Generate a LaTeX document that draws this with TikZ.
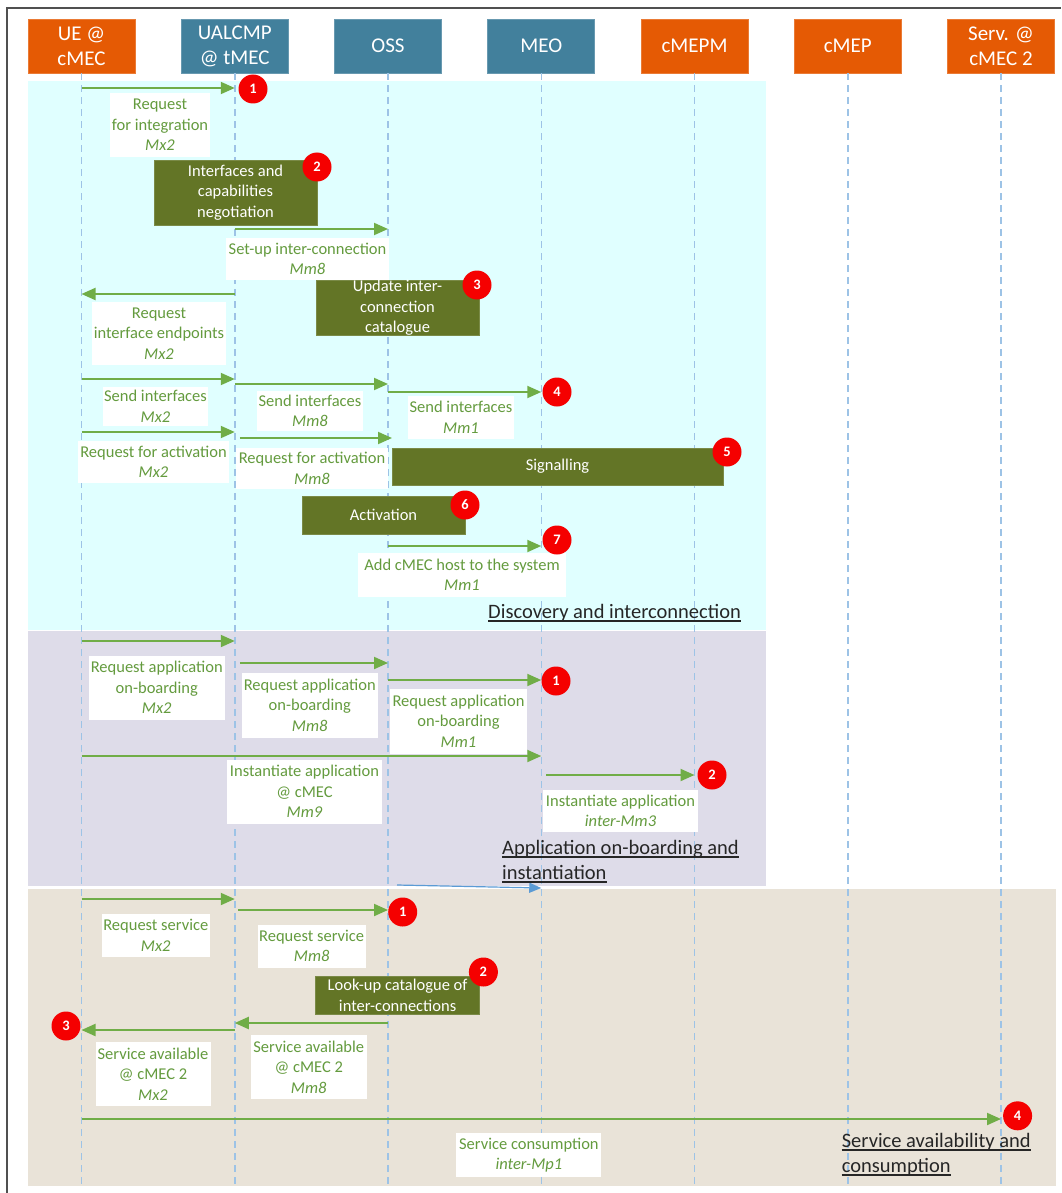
\documentclass[tikz,border=0pt]{standalone}
\usepackage{fontspec}
\setmainfont{Carlito}
\usetikzlibrary{arrows.meta,calc}
\definecolor{hdrorange}{RGB}{229,90,4}
\definecolor{hdrblue}{RGB}{66,128,156}
\definecolor{bgcyan}{RGB}{224,255,255}
\definecolor{bglav}{RGB}{222,220,233}
\definecolor{bgbeige}{RGB}{233,227,216}
\definecolor{msggreen}{RGB}{112,173,71}
\definecolor{txtgreen}{RGB}{100,155,62}
\definecolor{actgreen}{RGB}{99,117,38}
\definecolor{lifeblue}{RGB}{157,195,230}
\definecolor{arrblue}{RGB}{91,155,213}
\definecolor{titlegray}{RGB}{38,38,38}
\definecolor{framegray}{RGB}{80,80,80}
\definecolor{badgered}{RGB}{245,0,0}
\begin{document}
\begin{tikzpicture}[x=1pt,y=-1pt,
  hdr/.style={minimum width=107pt,minimum height=54pt,inner sep=0pt,text=white,align=center,font=\fontsize{21}{25}\selectfont},
  orangehdr/.style={hdr,fill=hdrorange,draw=hdrorange!80!white,line width=0.8pt},
  bluehdr/.style={hdr,fill=hdrblue,draw=hdrblue!80!white,line width=0.8pt},
  lifeline/.style={draw=lifeblue,line width=1.5pt,dash pattern=on 7pt off 5pt},
  msg/.style={draw=msggreen,line width=2pt,-{Triangle[length=14pt,width=12pt]}},
  bluemsg/.style={draw=arrblue,line width=1.2pt,-{Triangle[length=12pt,width=10pt]}},
  lbl/.style={fill=white,inner sep=0pt,text=txtgreen,align=center,font=\fontsize{16.5}{20.5}\selectfont},
  act/.style={fill=actgreen,draw=actgreen!85!white,line width=0.8pt,inner sep=0pt,text=white,align=center,font=\fontsize{16.5}{20.5}\selectfont},
  badge/.style={circle,fill=badgered,minimum size=29pt,inner sep=0pt,text=white,font=\fontsize{14.5}{14.5}\selectfont\bfseries},
  sectitle/.style={anchor=base west,inner sep=0pt,text=titlegray,font=\fontsize{20.5}{25}\selectfont},
  uline/.style={draw=titlegray,line width=1.3pt},
]
\useasboundingbox (0,0) rectangle (1061,1193);
% backgrounds
\fill[bgcyan] (28,81) rectangle (766,630);
\fill[bglav] (28,631) rectangle (766,886);
\fill[bgbeige] (28,889) rectangle (1056,1186);
% frame
\draw[framegray,line width=1.5pt] (7,1193) -- (7,8) -- (1061,8);
% headers
\node[orangehdr] (ue) at (81.5,46) {UE @\\cMEC};
\node[bluehdr] (ualcmp) at (234.75,46) {UALCMP\\@ tMEC};
\node[bluehdr] (oss) at (388,46) {OSS};
\node[bluehdr] (meo) at (541.25,46) {MEO};
\node[orangehdr] (cmepm) at (694.5,46) {cMEPM};
\node[orangehdr] (cmep) at (847.75,46) {cMEP};
\node[orangehdr] (serv) at (1001,46) {Serv. @\\cMEC 2};
% lifelines
\foreach \n in {ue,ualcmp,oss,meo,cmepm,cmep,serv}
  \draw[lifeline] (\n.south) -- (\n.south |- 0,1185);

% ---- section 1 messages
\draw[msg] (ue |- 0,88) -- (ualcmp |- 0,88);
\draw[msg] (ualcmp |- 0,229) -- (oss |- 0,229);
\draw[msg] (ualcmp |- 0,294) -- (ue |- 0,294);
\draw[msg] (ue |- 0,379) -- (ualcmp |- 0,379);
\draw[msg] (ualcmp |- 0,384) -- (oss |- 0,384);
\draw[msg] (oss |- 0,392) -- (meo |- 0,392);
\draw[msg] (ue |- 0,432) -- (ualcmp |- 0,432);
\draw[msg] ($(ualcmp |- 0,438)+(5,0)$) -- ($(oss |- 0,438)+(4,0)$);
\draw[msg] (oss |- 0,546) -- (meo |- 0,546);
% ---- section 2 messages
\draw[msg] (ue |- 0,641) -- (ualcmp |- 0,641);
\draw[msg] ($(ualcmp |- 0,663)+(5,0)$) -- (oss |- 0,663);
\draw[msg] (oss |- 0,680) -- (meo |- 0,680);
\draw[msg] (ue |- 0,756) -- (meo |- 0,756);
\draw[msg] ($(meo |- 0,775)+(5,0)$) -- (cmepm |- 0,775);
\draw[bluemsg] ($(oss |- 0,885)+(9,0)$) -- (meo |- 0,888);
% ---- section 3 messages
\draw[msg] (ue |- 0,899) -- (ualcmp |- 0,899);
\draw[msg] ($(ualcmp |- 0,910)+(3,0)$) -- (oss |- 0,910);
\draw[msg] (oss |- 0,1023) -- (ualcmp |- 0,1023);
\draw[msg] (ualcmp |- 0,1030) -- (ue |- 0,1030);
\draw[msg] (ue |- 0,1119) -- (serv |- 0,1119);

% ---- labels
\node[lbl,minimum width=100pt,minimum height=64pt] (l1) at (160,125) {Request\\for integration\\\textit{Mx2}};
\node[lbl,minimum width=163pt,minimum height=42pt] (l2) at (307.5,259) {Set-up inter-connection\\\textit{Mm8}};
\node[lbl,minimum width=134pt,minimum height=63pt] (l3) at (159,333.5) {Request\\interface endpoints\\\textit{Mx2}};
\node[lbl,minimum width=105pt,minimum height=39pt] (l4) at (155.5,406.5) {Send interfaces\\\textit{Mx2}};
\node[lbl,minimum width=106pt,minimum height=40pt] (l5) at (310,411) {Send interfaces\\\textit{Mm8}};
\node[lbl,minimum width=106pt,minimum height=43pt] (l6) at (461,417.5) {Send interfaces\\\textit{Mm1}};
\node[lbl,minimum width=151pt,minimum height=42pt] (l7) at (153.5,462) {Request for activation\\\textit{Mx2}};
\node[lbl,minimum width=152pt,minimum height=41pt] (l8) at (312,468.5) {Request for activation\\\textit{Mm8}};
\node[lbl,minimum width=208pt,minimum height=43.5pt] (l9) at (462,574.75) {Add cMEC host to the system\\\textit{Mm1}};
\node[lbl,minimum width=136.5pt,minimum height=64.5pt] (l10) at (156.75,687.75) {Request application\\on-boarding\\\textit{Mx2}};
\node[lbl,minimum width=136.5pt,minimum height=64.5pt] (l11) at (309.75,705.25) {Request application\\on-boarding\\\textit{Mm8}};
\node[lbl,minimum width=137pt,minimum height=64.5pt] (l12) at (458.5,721.25) {Request application\\on-boarding\\\textit{Mm1}};
\node[lbl,minimum width=155pt,minimum height=64.2pt] (l13) at (304.5,791.6) {Instantiate application\\@ cMEC\\\textit{Mm9}};
\node[lbl,minimum width=155pt,minimum height=41.7pt] (l14) at (620.5,810.85) {Instantiate application\\\textit{inter-Mm3}};
\node[lbl,minimum width=107.5pt,minimum height=43.2pt] (l15) at (155.75,935.1) {Request service\\\textit{Mx2}};
\node[lbl,minimum width=107.7pt,minimum height=43pt] (l16) at (311.65,946) {Request service\\\textit{Mm8}};
\node[lbl,minimum width=115.5pt,minimum height=63.6pt] (l17) at (308.75,1067.2) {Service available\\@ cMEC 2\\\textit{Mm8}};
\node[lbl,minimum width=115pt,minimum height=63.7pt] (l18) at (153,1073.85) {Service available\\@ cMEC 2\\\textit{Mx2}};
\node[lbl,minimum width=145pt,minimum height=43.2pt] (l19) at (528.9,1155) {Service consumption\\\textit{inter-Mp1}};

% ---- action boxes
\node[act,minimum width=163pt,minimum height=65pt] (g1) at (235.5,192.5) {Interfaces and\\capabilities\\negotiation};
\node[act,minimum width=163pt,minimum height=50pt] (g2) at (397.5,308) {Update inter-\\connection\\catalogue};
\node[act,minimum width=331pt,minimum height=37pt] (g3) at (557.5,466.5) {Signalling};
\node[act,minimum width=163pt,minimum height=37.5pt] (g4) at (383.5,515.25) {Activation};
\node[act,minimum width=164pt,minimum height=38.5pt] (g5) at (397.6,995.25) {Look-up catalogue of\\inter-connections};

% ---- badges
\node[badge] (b1) at (253,89) {1};
\node[badge] (b2) at (317,167) {2};
\node[badge] (b3) at (477,285) {3};
\node[badge] (b4) at (557,392) {4};
\node[badge] (b5) at (727,452) {5};
\node[badge] (b6) at (465,505) {6};
\node[badge] (b7) at (557,540) {7};
\node[badge] (c1) at (556,681) {1};
\node[badge] (c2) at (712,775) {2};
\node[badge] (d1) at (402.7,912) {1};
\node[badge] (d2) at (483.4,972) {2};
\node[badge] (d3) at (66,1026) {3};
\node[badge] (d4) at (1017.6,1115.8) {4};

% ---- section titles
\node[sectitle] (t1) at (488,618) {Discovery and interconnection};
\draw[uline] ([yshift=-3pt]t1.base west) -- ([yshift=-3pt]t1.base east);
\node[sectitle] (t2a) at (502,854) {Application on-boarding and};
\draw[uline] ([yshift=-3pt]t2a.base west) -- ([yshift=-3pt]t2a.base east);
\node[sectitle] (t2b) at (502,879) {instantiation};
\draw[uline] ([yshift=-3pt]t2b.base west) -- ([yshift=-3pt]t2b.base east);
\node[sectitle] (t3a) at (841.6,1147) {Service availability and};
\draw[uline] ([yshift=-3pt]t3a.base west) -- ([yshift=-3pt]t3a.base east);
\node[sectitle] (t3b) at (841.6,1172) {consumption};
\draw[uline] ([yshift=-3pt]t3b.base west) -- ([yshift=-3pt]t3b.base east);
\end{tikzpicture}
\end{document}
